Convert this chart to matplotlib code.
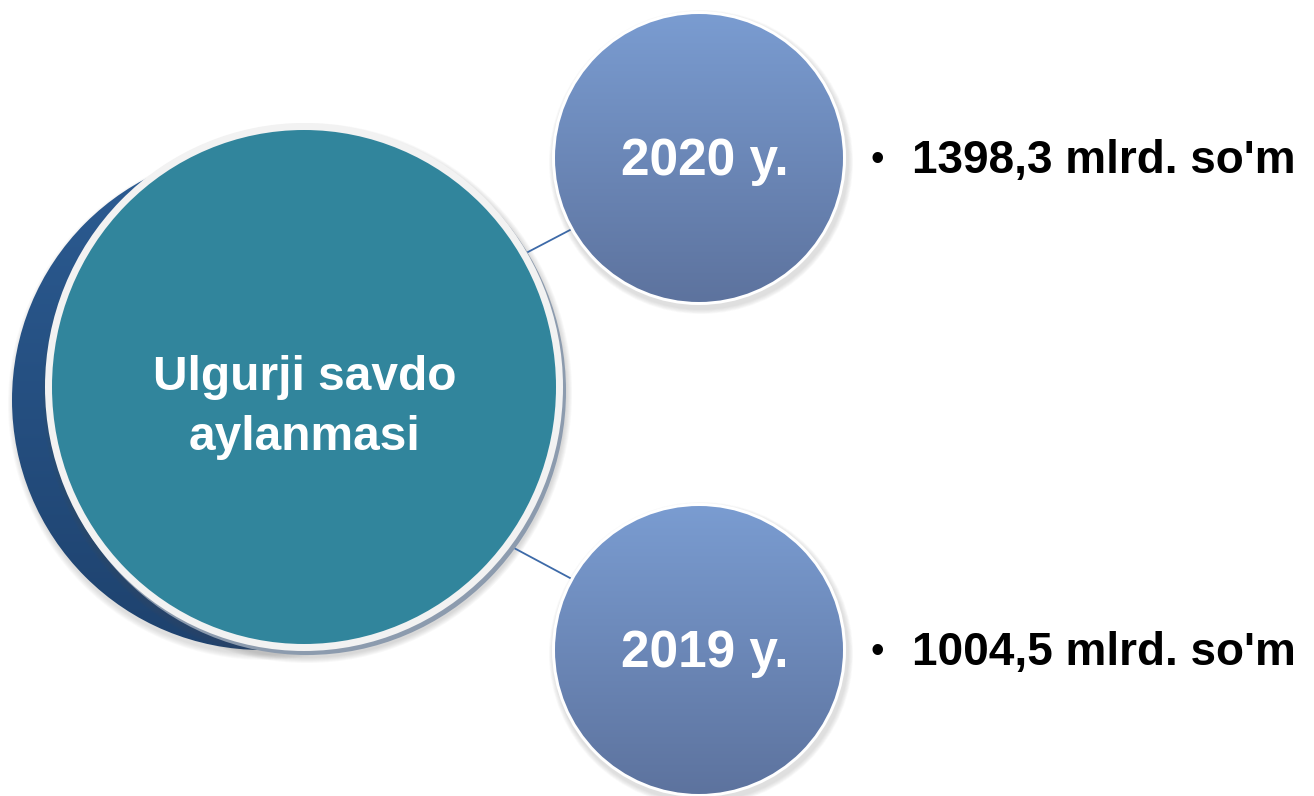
import numpy as np
import matplotlib
matplotlib.use("Agg")
import matplotlib.pyplot as plt
from matplotlib.patches import Circle, Ellipse
from matplotlib.colors import LinearSegmentedColormap

# ---- data ----
center_label = ["Ulgurji savdo", "aylanmasi"]
years = ["2020 y.", "2019 y."]
values = [1398.3, 1004.5]
unit = "mlrd. so'm"

plt.rcParams['font.family'] = ['Liberation Sans', 'DejaVu Sans']

W, H = 1314, 796
fig = plt.figure(figsize=(W / 100, H / 100), dpi=100)
ax = fig.add_axes([0, 0, 1, 1])
ax.set_xlim(0, W)
ax.set_ylim(H, 0)
ax.set_aspect('equal')
ax.axis('off')


def gradient_patch(patch, top, bottom, z):
    ax.add_patch(patch)
    bb = patch.get_extents()  # display coords
    inv = ax.transData.inverted()
    (x0, y0), (x1, y1) = inv.transform([[bb.x0, bb.y0], [bb.x1, bb.y1]])
    cmap = LinearSegmentedColormap.from_list("g", [top, bottom])
    grad = np.linspace(0, 1, 256).reshape(-1, 1)
    im = ax.imshow(grad, cmap=cmap, extent=(min(x0, x1), max(x0, x1), max(y0, y1), min(y0, y1)),
                   aspect='auto', zorder=z, interpolation='bilinear')
    im.set_clip_path(patch)
    ax.set_xlim(0, W)
    ax.set_ylim(H, 0)


def soft_shadow(cx, cy, rx, ry, z, strength=0.05, steps=8, spread=8):
    for i in range(steps):
        g = spread * (1 - i / steps)
        ax.add_patch(Ellipse((cx, cy), 2 * (rx + g), 2 * (ry + g), facecolor='#555555',
                             edgecolor='none', alpha=strength, zorder=z))


# ---- back (dark blue) circle ----
back = Circle((262, 400), 250, facecolor='none', edgecolor='none', zorder=2)
soft_shadow(264, 404, 250, 250, 1, strength=0.03, steps=6, spread=6)
gradient_patch(back, '#2C5C93', '#1E426E', 2)

# ---- front circle ----
fcx, fcy, frx, fry = 304, 387, 259, 264
soft_shadow(fcx + 3, fcy + 6, frx, fry, 3, strength=0.04, steps=6, spread=6)
ax.add_patch(Ellipse((fcx + 3, fcy + 4), 2 * frx, 2 * fry, facecolor='#8C9BAE', edgecolor='none', zorder=4))
ax.add_patch(Ellipse((fcx, fcy), 2 * frx, 2 * fry, facecolor='#F2F2F2', edgecolor='none', zorder=5))
ax.add_patch(Ellipse((fcx, fcy), 2 * (frx - 7), 2 * (fry - 7), facecolor='#31859C', edgecolor='none', zorder=6))

ax.text(fcx + 1, 390, center_label[0], color='white', fontsize=34.5, fontweight='bold',
        ha='center', va='baseline', zorder=10)
ax.text(fcx + 1, 450, center_label[1], color='white', fontsize=34.5, fontweight='bold',
        ha='center', va='baseline', zorder=10)

# ---- connectors ----
ax.plot([528, 570], [252, 230], color='#3D6AA8', lw=1.3, zorder=3)
ax.plot([514, 570], [548, 578], color='#3D6AA8', lw=1.3, zorder=3)

# ---- small circles ----
small_centers = [(699, 158), (699, 650)]
small_r = 147
baselines = [175, 667]
for (cx, cy), yr, val, bl in zip(small_centers, years, values, baselines):
    soft_shadow(cx + 2, cy + 4, small_r, small_r, 7, strength=0.03, steps=6, spread=5)
    ax.add_patch(Circle((cx, cy), small_r, facecolor='white', edgecolor='none', zorder=8))
    inner = Circle((cx, cy), small_r - 3, facecolor='none', edgecolor='none', zorder=9)
    gradient_patch(inner, '#7A9CD1', '#5D739E', 9)
    ax.text(cx + 6, bl, yr, color='white', fontsize=37, fontweight='bold',
            ha='center', va='baseline', zorder=10)
    ax.text(877, bl - 4, "\u2022", color='black', fontsize=28, ha='center', va='baseline', zorder=10)
    label = f"{val:.1f}".replace('.', ',') + " " + unit
    ax.text(912, bl - 2, label, color='black', fontsize=33, fontweight='bold',
            ha='left', va='baseline', zorder=10)

fig.savefig("out.png", dpi=100)
